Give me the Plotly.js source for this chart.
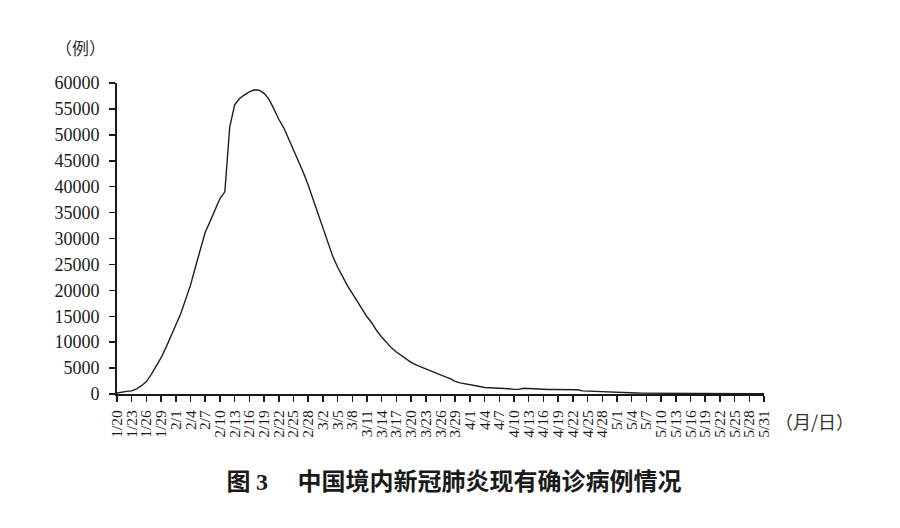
<!DOCTYPE html>
<html>
<head>
<meta charset="utf-8">
<script src="https://cdn.plot.ly/plotly-3.0.1.min.js"></script>
<style>
html,body{margin:0;padding:0;background:#fff;}
#chart{width:900px;height:528px;}
</style>
</head>
<body>
<div id="chart"></div>
<script>
// Daily existing confirmed cases, starting 1/20 and ending 5/31 (133 days)
const startLabel = "1/20";
const existingCases = [
  200, 400, 500, 600, 1000, 1600, 2400, 3800, 5300, 7000,
  9000, 11000, 13300, 15500, 18200, 21000, 24500, 28000, 31200, 33300,
  35400, 37700, 39000, 51500, 55800, 57000, 57700, 58300, 58700, 58600,
  58000, 56900, 55000, 53000, 51400, 49300, 47300, 45100, 42800, 40300,
  37600, 34800, 31900, 29100, 26600, 24500, 22600, 20900, 19400, 17900,
  16400, 14900, 13700, 12200, 11000, 9900, 8900, 8100, 7400, 6700,
  6100, 5600, 5200, 4800, 4400, 4000, 3700, 3300, 2950, 2450,
  2150, 2000, 1800, 1650, 1450, 1250, 1200, 1200, 1150, 1150,
  1000, 900, 900, 1100, 1050, 900, 880, 870, 860, 860,
  850, 850, 840, 840, 830, 600, 550, 540, 520, 500,
  350, 320, 300, 280, 250, 200, 180, 160, 150, 140,
  130, 120, 100, 90, 85, 85, 80, 80, 80, 80,
  80, 75, 75, 75, 70, 70, 70, 70, 70, 65,
  65, 65, 65
];
const tickLabels = [
  "1/20","1/23","1/26","1/29","2/1","2/4","2/7","2/10","2/13","2/16",
  "2/19","2/22","2/25","2/28","3/2","3/5","3/8","3/11","3/14","3/17",
  "3/20","3/23","3/26","3/29","4/1","4/4","4/7","4/10","4/13","4/16",
  "4/19","4/22","4/25","4/28","5/1","5/4","5/7","5/10","5/13","5/16",
  "5/19","5/22","5/25","5/28","5/31"
];
const tickStep = 3;
const yTickStep = 5000;
const yMax = 60000;
const titleText = "图 <span style=\"font-family:'Liberation Serif'\">3</span>　 中国境内新冠肺炎现有确诊病例情况";
const yUnit = "（例）";
const xUnit = "（月/日）";

const dayIndex = existingCases.map((_, i) => i);
const tickVals = tickLabels.map((_, i) => i * tickStep);

const trace = {
  x: dayIndex,
  y: existingCases,
  type: 'scatter',
  mode: 'lines',
  line: {color: '#1e1e1e', width: 1.4},
  hoverinfo: 'skip'
};

const axisFont = {family: "'Liberation Serif', 'Times New Roman', serif", color: '#1a1a1a'};

const layout = {
  width: 900,
  height: 528,
  paper_bgcolor: '#ffffff',
  plot_bgcolor: '#ffffff',
  showlegend: false,
  margin: {l: 117, r: 136, t: 83, b: 133.5, pad: 0},
  title: {
    text: titleText,
    x: 454 / 900,
    xanchor: 'center',
    xref: 'container',
    y: 1 - 482 / 528,
    yanchor: 'middle',
    yref: 'container',
    font: {family: "'Noto Sans CJK SC', sans-serif", size: 24, color: '#1a1a1a', weight: 'bold'}
  },
  xaxis: {
    range: [0, (tickLabels.length - 1) * tickStep],
    tickmode: 'array',
    tickvals: tickVals,
    ticktext: tickLabels,
    tickangle: -90,
    ticks: 'outside',
    ticklen: 6,
    tickwidth: 1.5,
    tickcolor: '#1a1a1a',
    ticklabelstandoff: 2,
    showline: true,
    linecolor: '#1a1a1a',
    linewidth: 2,
    showgrid: false,
    zeroline: false,
    tickfont: Object.assign({size: 15.5}, axisFont)
  },
  yaxis: {
    range: [0, yMax],
    dtick: yTickStep,
    tick0: 0,
    tickformat: 'd',
    ticks: 'outside',
    ticklen: 6,
    tickwidth: 1.5,
    tickcolor: '#1a1a1a',
    ticklabelstandoff: 6,
    showline: true,
    linecolor: '#1a1a1a',
    linewidth: 2,
    showgrid: false,
    zeroline: false,
    tickfont: Object.assign({size: 18}, axisFont)
  },
  annotations: [
    {
      text: yUnit,
      xref: 'paper', yref: 'paper',
      x: (80 - 117) / 647, y: (394.5 - 48) / 311.2,
      xanchor: 'center', yanchor: 'middle',
      showarrow: false,
      font: {family: "'Noto Sans CJK SC', sans-serif", size: 17, color: '#333'}
    },
    {
      text: xUnit,
      xref: 'paper', yref: 'paper',
      x: (814 - 117) / 647, y: (394.5 - 422) / 311.2,
      xanchor: 'center', yanchor: 'middle',
      showarrow: false,
      font: {family: "'Noto Sans CJK SC', sans-serif", size: 18, color: '#333'}
    }
  ]
};

Plotly.newPlot('chart', [trace], layout, {staticPlot: true, displayModeBar: false});
</script>
</body>
</html>
